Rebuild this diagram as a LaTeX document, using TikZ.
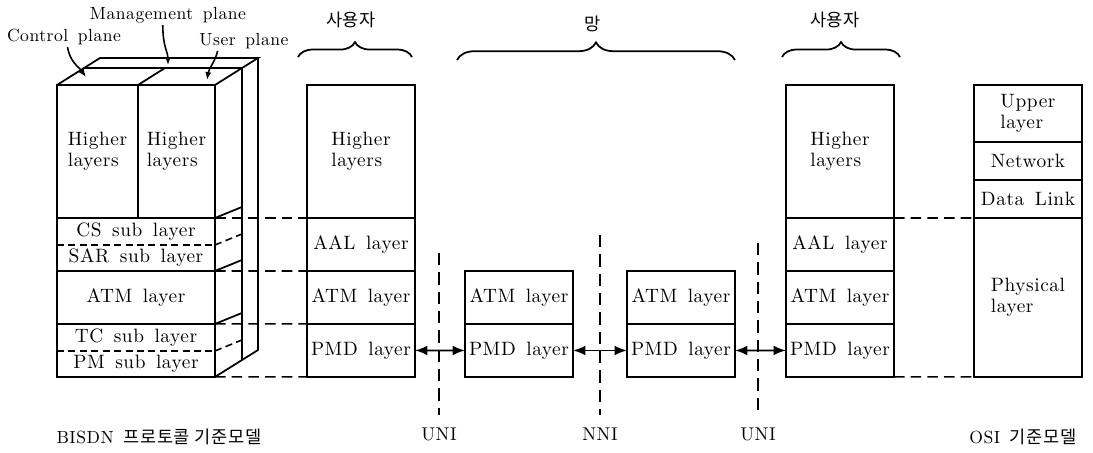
\documentclass[tikz,border=0pt]{standalone}
\usepackage{fontspec}
\setmainfont{Latin Modern Roman}[LetterSpace=3.0,WordSpace=1.5]
\newfontfamily\kr{Noto Sans CJK KR}[LetterSpace=4.0]
\usepackage{tikz}
\usetikzlibrary{arrows.meta, positioning, calc, decorations.pathreplacing}
\tikzset{
  % layer box of a protocol stack
  layer/.style={
    rectangle, draw, line width=1pt, outer sep=0pt, inner sep=1pt,
    minimum width=2.16cm, minimum height=1.06cm,
    align=center, font=\fontsize{11}{12}\selectfont
  },
  tall/.style={layer, minimum height=2.66cm},
  % text only layer (outline drawn apart)
  sublayer/.style={layer, draw=none, minimum width=3.16cm},
  % dashed links between stacks
  hdash/.style={line width=0.9pt, dash pattern=on 6pt off 3.5pt},
  sdash/.style={line width=0.9pt, dash pattern=on 4pt off 2.5pt},
  % interface lines
  ifline/.style={line width=0.9pt, dash pattern=on 7pt off 4pt},
  iflabel/.style={font=\fontsize{10.5}{12}\selectfont, inner sep=2pt},
  % arrows
  biarr/.style={{Latex[length=7pt,width=5.5pt]}-{Latex[length=7pt,width=5.5pt]}, line width=1pt},
  leader/.style={-{Latex[length=4.5pt,width=3.5pt]}, line width=0.9pt},
  % braces
  brc/.style={decorate, decoration={brace, amplitude=8.5pt}, line width=1pt},
  klabel/.style={font=\kr\fontsize{10}{12}\selectfont, inner sep=1pt},
  plabel/.style={font=\fontsize{10}{12}\selectfont, inner sep=1pt},
}
\begin{document}
\begin{tikzpicture}[x=0.02cm, y=-0.02cm, line join=miter]
  \useasboundingbox (0,0) rectangle (1093,453);

  %% B-ISDN reference model block (front face)
  \node[tall, minimum width=1.62cm, anchor=north west, align=left] (hl1) at (57,85) {Higher\\layers};
  \node[tall, minimum width=1.54cm, right=0pt of hl1, align=left] (hl2) {Higher\\layers};
  \node[sublayer, minimum height=0.54cm, anchor=north west] (cs) at (hl1.south west) {CS sub layer};
  \node[sublayer, minimum height=0.52cm, below=0pt of cs] (sar) {SAR sub layer};
  \node[layer, minimum width=3.16cm, below=0pt of sar] (atml) {ATM layer};
  \node[sublayer, minimum height=0.54cm, below=0pt of atml] (tc) {TC sub layer};
  \node[sublayer, minimum height=0.52cm, below=0pt of tc] (pm) {PM sub layer};

  \draw[line width=1pt] (cs.north west) rectangle (sar.south east);
  \draw[line width=1pt] (tc.north west) rectangle (pm.south east);
  \draw[sdash] (cs.south west) -- (cs.south east);
  \draw[sdash] (tc.south west) -- (tc.south east);

  %% block top and side
  \coordinate (tbl) at (100,58);
  \coordinate (tbr) at (258,58);
  \coordinate (bbr) at (258,350);
  \coordinate (tml) at ($(hl1.north west)!0.63!(tbl)$);
  \coordinate (tmr) at ($(hl2.north east)!0.63!(tbr)$);
  \coordinate (bmr) at ($(pm.south east)!0.63!(bbr)$);
  \draw[line width=1pt] (hl1.north west) -- (tbl) -- (tbr) -- (hl2.north east);
  \draw[line width=1pt] (tml) -- (tmr);
  \draw[line width=1pt] (hl2.north west) -- ++(27,-17);
  \draw[line width=1pt] (tbr) -- (bbr) -- (pm.south east);
  \draw[line width=1pt] (tmr) -- (bmr);
  \draw[line width=1pt] (cs.north east) -- ++(27,-11);
  \draw[sdash] (cs.south east) -- ++(27,-11);
  \draw[line width=1pt] (atml.north east) -- ++(27,-11);
  \draw[line width=1pt] (tc.north east) -- ++(27,-11);
  \draw[sdash] (tc.south east) -- ++(27,-11);

  %% plane labels
  \node[plabel] (ctrl) at (64,37) {Control plane};
  \node[plabel] (mgmt) at (168,15) {Management plane};
  \node[plabel] (usr) at (244,41) {User plane};
  \coordinate (ctrlpt) at (86,77);
  \coordinate (mgmtpt) at (168,65);
  \coordinate (usrpt) at (207,80);
  \draw[leader] ([xshift=2pt]ctrl.south) .. controls (70,62) and (78,66) .. (ctrlpt);
  \draw[leader] ([xshift=-3pt]mgmt.south) .. controls (163,48) and (168,52) .. (mgmtpt);
  \draw[leader] ([xshift=-15pt]usr.south) .. controls (215,62) and (209,68) .. (usrpt);

  %% user side stack
  \node[tall, anchor=north west, align=left] (hu1) at (307,85) {Higher\\layers};
  \node[layer, below=0pt of hu1] (aal1) {AAL layer};
  \node[layer, below=0pt of aal1] (atm1) {ATM layer};
  \node[layer, below=0pt of atm1] (pmd1) {PMD layer};

  %% network nodes
  \node[layer, anchor=north west] (na1) at (465,271) {ATM layer};
  \node[layer, below=0pt of na1] (np1) {PMD layer};
  \node[layer, anchor=north west] (na2) at (627,271) {ATM layer};
  \node[layer, below=0pt of na2] (np2) {PMD layer};

  %% user side stack (right)
  \node[tall, anchor=north west, align=left] (hu2) at (786,85) {Higher\\layers};
  \node[layer, below=0pt of hu2] (aal2) {AAL layer};
  \node[layer, below=0pt of aal2] (atm2) {ATM layer};
  \node[layer, below=0pt of atm2] (pmd2) {PMD layer};

  %% OSI reference model
  \node[layer, minimum height=1.14cm, anchor=north west, align=left] (upper) at (974,85) {Upper\\layer};
  \node[layer, minimum height=0.76cm, below=0pt of upper] (netw) {Network};
  \node[layer, minimum height=0.76cm, below=0pt of netw] (dlink) {Data Link};
  \node[layer, minimum height=3.18cm, below=0pt of dlink, align=left] (phys) {Physical\\layer};

  %% dashed correspondences
  \draw[hdash] (cs.north east) -- (aal1.north west);
  \draw[hdash] (atml.north east) -- (atm1.north west);
  \draw[hdash] (tc.north east) -- (pmd1.north west);
  \draw[hdash] (pm.south east) -- (pmd1.south west);
  \draw[hdash] (aal2.north east) -- (phys.north west);
  \draw[hdash] (pmd2.south east) -- (phys.south west);

  %% physical links
  \draw[biarr] (pmd1.east) -- (np1.west);
  \draw[biarr] (np1.east) -- (np2.west);
  \draw[biarr] (np2.east) -- (pmd2.west);

  %% interfaces
  \coordinate (uni1top) at (439,253);
  \coordinate (nnitop) at (600,235);
  \coordinate (uni2top) at (758,243);
  \node[iflabel] (uni1) at (439,434) {UNI};
  \node[iflabel] (nni) at (600,434) {NNI};
  \node[iflabel] (uni2) at (758,434) {UNI};
  \draw[ifline] (uni1top) -- ([yshift=5pt]uni1.north);
  \draw[ifline] (nnitop) -- ([yshift=5pt]nni.north);
  \draw[ifline] (uni2top) -- ([yshift=5pt]uni2.north);

  %% braces
  \coordinate (b1l) at (298,57);
  \coordinate (b1r) at (412,57);
  \coordinate (b2l) at (457,60);
  \coordinate (b2r) at (735,60);
  \coordinate (b3l) at (782,57);
  \coordinate (b3r) at (900,57);
  \draw[brc] (b1l) -- (b1r);
  \draw[brc, decoration={amplitude=10pt}] (b2l) -- (b2r);
  \draw[brc] (b3l) -- (b3r);
  \node[klabel] (user1) at (351,20) {사용자};
  \node[klabel] (netlbl) at (593,24) {망};
  \node[klabel] (user2) at (835,20) {사용자};

  %% captions
  \node[plabel] (bisdn) at (159,437) {BISDN {\kr 프로토콜 기준모델}};
  \node[plabel] (osi) at (1023,437) {OSI {\kr 기준모델}};
\end{tikzpicture}
\end{document}
